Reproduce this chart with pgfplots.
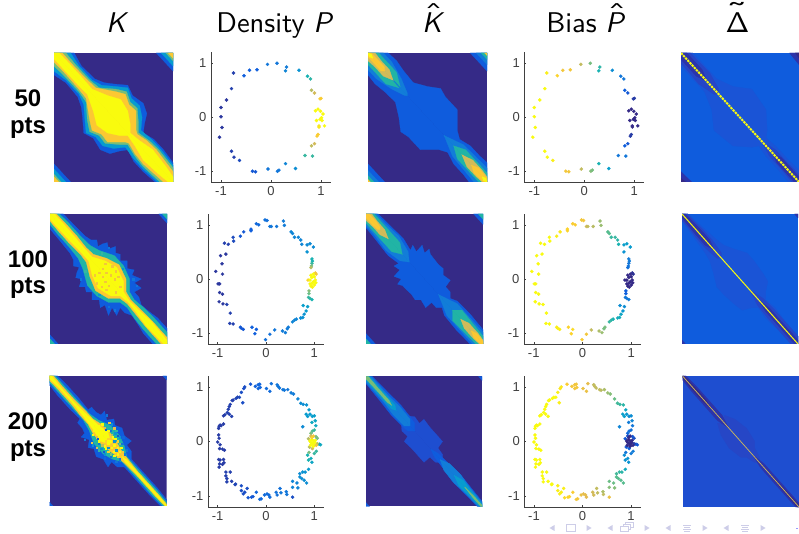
\documentclass[border=0pt]{standalone}
\usepackage{fontspec}
\usepackage{graphicx}
\usepackage{pgfplots}
\usepackage{pgfplotstable}
\pgfplotsset{compat=1.18}
\newfontfamily\ar{Liberation Sans}
\newfontfamily\lms[ItalicFont=lmsans10-oblique.otf,SlantedFont=lmsans10-oblique.otf]{lmsans10-regular.otf}
\definecolor{pk}{RGB}{53,42,135}
\definecolor{pk2}{RGB}{44,52,170}
\definecolor{pb2}{RGB}{38,70,198}
\definecolor{pb1}{RGB}{30,78,208}
\definecolor{pb0}{RGB}{26,84,214}
\definecolor{pb}{RGB}{15,92,221}
\definecolor{pc}{RGB}{18,125,216}
\definecolor{pd}{RGB}{7,156,207}
\definecolor{pt}{RGB}{33,180,165}
\definecolor{pg}{RGB}{120,190,120}
\definecolor{po}{RGB}{209,187,89}
\definecolor{pf}{RGB}{252,200,50}
\definecolor{py}{RGB}{249,251,14}
\definecolor{nav}{RGB}{205,205,232}
\pgfplotsset{
 colormap={parula}{rgb255=(53,42,135) rgb255=(15,92,221) rgb255=(18,125,216) rgb255=(7,156,207) rgb255=(21,177,180) rgb255=(89,189,140) rgb255=(165,190,107) rgb255=(225,185,82) rgb255=(252,206,46) rgb255=(249,251,14)},
 hm/.style n args={4}{scale only axis,at={(#1pt,#3pt)},anchor=south west,width=#2pt,height=#4pt,
   xmin=0,xmax=1,ymin=0,ymax=1,y dir=reverse,hide axis,clip=true,point meta min=0,point meta max=1,colormap name=parula},
 sc/.style n args={4}{scale only axis,at={(#1pt,#3pt)},anchor=south west,width=#2pt,height=#4pt,
   xmin=-1.2,xmax=1.2,ymin=-1.2,ymax=1.2,axis x line*=bottom,axis y line*=left,
   axis line style={-,draw=black!75,line width=.5pt},tick align=inside,tick style={draw=black!75,line width=.4pt},
   major tick length=2pt,xtick={-1,0,1},ytick={-1,0,1},xticklabels={-1,0,1},yticklabels={-1,0,1},
   ticklabel style={font=\ar\fontsize{13}{14}\selectfont,text=black!75},
   xticklabel style={yshift=-1pt},yticklabel style={xshift=-1pt},
   point meta min=0,point meta max=1,colormap name=parula},
 dots/.style={scatter,only marks,mark=*,mark size=1.6pt,line width=.3pt,scatter src=explicit,
   scatter/use mapped color={draw=mapped color,fill=mapped color}}
}
\newcommand\lay[2]{%
 \addplot[fill=#1,draw=#1,line width=.25pt,mark=none] table[row sep=\\,x=u,y=v]{u v\\ #2}--cycle;
 \addplot[fill=#1,draw=#1,line width=.25pt,mark=none] table[row sep=\\,x=v,y=u]{u v\\ #2}--cycle;}
\newcommand\bg[1]{\addplot[fill=#1,draw=none,mark=none] coordinates {(0,0)(1,0)(1,1)(0,1)}--cycle;}
\newcommand\mott[1]{%
 \addplot[scatter,only marks,mark=square*,mark size=.7pt,line width=.1pt,scatter src=explicit,scatter/use mapped color={draw=mapped color,fill=mapped color}] table[row sep=\\,x=u,y=v,meta=c]{u v c\\ #1};
 \addplot[scatter,only marks,mark=square*,mark size=.7pt,line width=.1pt,scatter src=explicit,scatter/use mapped color={draw=mapped color,fill=mapped color}] table[row sep=\\,x=v,y=u,meta=c]{u v c\\ #1};}
\newcommand\accd[4]{\makebox[0pt][l]{\hspace{#2}\makebox[0pt][c]{\raisebox{#3}{\scalebox{#4}[1]{\char"#1}}}}}

\pgfplotstableread{
x y c p
-.07 .98 .2 .72
.12 1.00 .2 .6
.31 .93 .22 .48
.29 .86 .25 .45
.56 .87 .3 .28
-.28 .88 .12 .85
-.43 .87 .12 .85
-.54 .77 .12 .9
-.75 .82 .05 .97
-.79 .53 .05 1
-.89 .32 .03 1
-1.0 .18 .03 1
-1.0 .01 .03 1
-.98 -.19 .03 1
-1.03 -.37 .03 1
-.79 -.63 .05 1
-.74 -.74 .05 1
-.63 -.80 .07 .97
-.37 -1.0 .1 .85
-.31 -1.01 .1 .85
-.06 -.96 .2 .72
.13 -1.0 .2 .62
.16 -.98 .2 .6
.29 -.86 .25 .45
.49 -.95 .28 .35
.68 -.71 .5 .2
.83 -.72 .5 .2
.81 -.53 .72 .12
.87 -.49 .75 .1
.92 -.35 .88 .04
.94 -.32 .88 .04
.96 -.18 .95 0
.96 -.16 .95 0
1.07 -.16 1 0
.91 -.06 1 0
.98 -.04 1 0
1.02 -.06 1 0
1.04 .06 1 0
.89 .12 1 0
.94 .15 1 0
.99 .11 1 0
1.01 -.01 1 0
.73 .76 .45 .2
.79 .71 .48 .2
.81 .50 .7 .12
.87 .45 .75 .1
.98 .34 .88 .04
1.0 .35 .88 .04
}\tabA
\pgfplotstableread{
x y c p
-.02 1.09 .18 .85
.02 1.08 .18 .85
-.20 1.02 .15 .88
-.15 1.0 .15 .88
.08 .97 .2 .75
.11 .97 .2 .72
.22 .97 .2 .7
.36 1.07 .22 .65
.38 .99 .22 .65
.52 .87 .25 .55
.55 .84 .25 .55
.59 .77 .25 .5
.67 .77 .25 .5
.72 .72 .25 .48
.74 .64 .25 .45
.85 .63 .27 .35
.91 .65 .27 .35
.98 .59 .27 .33
.85 .50 .3 .3
.95 .37 .45 .22
.96 .33 .45 .22
.95 .29 .5 .2
.94 .24 .6 .2
.93 .21 .7 .18
1.04 .09 .85 .02
1.02 .11 .85 .02
.87 -.02 .9 0
.93 .07 1 0
.98 .09 1 0
1.0 .04 1 0
.95 .03 1 0
.91 -.02 1 0
1.02 -.02 1 0
.95 -.08 1 0
1.0 -.11 1 0
.93 -.13 1 0
.98 -.05 1 0
.91 -.09 1 0
1.03 -.07 1 0
.96 -.15 .98 0
.89 -.22 .62 .12
.89 -.27 .58 .12
.88 -.34 .5 .2
.95 -.38 .45 .22
.91 -.36 .48 .2
.77 -.49 .35 .28
.86 -.51 .35 .28
.83 -.59 .33 .32
.79 -.65 .3 .38
.76 -.71 .3 .42
.72 -.72 .28 .42
.63 -.74 .25 .45
.59 -.76 .25 .48
.55 -.79 .25 .5
.46 -.89 .22 .6
.44 -.92 .22 .6
.40 -.99 .22 .65
.34 -.96 .22 .68
.18 -.94 .2 .72
.08 -1.02 .18 .85
-.01 -1.12 .18 .88
-.20 -.93 .12 .92
-.23 -1.01 .12 .9
-.29 -.89 .12 .9
-.47 -.93 .1 .97
-.51 -.91 .1 .97
-.53 -.89 .1 .97
-.68 -.83 .05 1
-.75 -.82 .05 1
-.74 -.63 .05 1
-.81 -.47 .05 1
-.89 -.46 .03 1
-.90 -.28 .03 1
-.96 -.25 .03 1
-.97 -.42 .03 1
-.96 -.09 .03 1
-.99 -.09 .03 1
-.90 .09 .03 1
-1.04 .14 .03 1
-.91 .28 .03 1
-.94 .43 .03 1
-.83 .46 .03 1
-.86 .66 .05 1
-.78 .64 .05 1
-.67 .70 .07 1
-.68 .77 .07 1
-.53 .79 .1 .97
-.46 .87 .1 .95
-.31 .92 .12 .9
-.31 .89 .12 .9
}\tabB
\pgfplotstableread{
x y c p
-.32 1.05 .1 .88
-.44 1.0 .08 .95
-.46 .97 .08 .95
-.51 .90 .08 .97
-.55 .81 .07 1
-.48 .71 .08 .97
-.59 .81 .06 1
-.62 .79 .06 1
-.68 .76 .05 1
-.70 .75 .05 1
-.74 .68 .05 1
-.76 .64 .05 1
-.78 .59 .05 1
-.80 .53 .05 1
-.85 .49 .05 1
-.88 .47 .04 1
-.76 .50 .05 1
-.71 .46 .05 1
-.88 .32 .04 1
-.93 .29 .04 1
-.97 .28 .04 1
-.98 .24 .04 1
-.95 .30 .04 1
-.98 .12 .04 1
-.97 .06 .04 1
-1.0 -.01 .04 1
-.95 -.06 .04 1
-.96 -.13 .04 1
-.90 -.14 .04 1
-.86 -.16 .04 1
-.98 -.33 .04 1
-.95 -.34 .04 1
-.88 -.33 .04 1
-.87 -.39 .04 1
-.96 -.41 .04 1
-.90 -.42 .04 1
-.97 -.47 .04 1
-.83 -.56 .05 1
-.74 -.56 .05 1
-.83 -.63 .05 1
-.81 -.68 .05 1
-.81 -.74 .05 1
-.71 -.73 .05 1
-.63 -.78 .06 1
-.64 -.79 .06 1
-.51 -.81 .08 .97
-.39 -.86 .08 .97
-.51 -.90 .08 .97
-.44 -.93 .08 .97
-.47 -.96 .08 .97
-.37 -1.03 .1 .92
-.30 -1.02 .1 .9
-.27 -1.01 .1 .9
-.20 -.93 .14 .88
-.13 -1.06 .15 .85
-.10 -1.05 .15 .85
-.03 -.98 .16 .82
.02 -.96 .16 .8
.06 -.98 .16 .8
.08 -1.02 .16 .78
.21 -.93 .18 .75
.23 -.98 .18 .75
.29 -.86 .18 .72
.31 -.94 .2 .72
.42 -.92 .2 .68
.43 -.97 .2 .72
.55 -1.02 .08 .82
.55 -.73 .25 .58
.64 -.76 .25 .58
.66 -.85 .25 .62
.55 -.84 .25 .62
.70 -.65 .28 .55
.70 -.59 .28 .52
.76 -.56 .3 .5
.81 -.56 .3 .48
.88 -.51 .33 .4
.74 -.68 .28 .55
.79 -.71 .28 .55
.84 -.76 .28 .55
.95 -.38 .38 .3
.93 -.31 .42 .3
.86 -.25 .45 .28
.88 -.34 .45 .3
1.0 -.22 .5 .22
1.04 -.18 .5 .22
.89 -.20 .6 .2
.96 -.13 .75 .12
1.10 -.05 .4 .12
1.13 -.06 .4 .1
1.06 .06 .6 .08
1.03 .09 .6 .1
.93 .15 .6 .15
.96 .19 .55 .18
1.0 .21 .5 .18
1.03 .29 .4 .2
.95 .35 .4 .22
1.02 .38 .38 .25
.96 .46 .35 .28
1.0 .47 .35 .28
.91 .50 .33 .32
.83 .50 .33 .35
.86 .46 .33 .35
.76 .27 .27 .25
.89 .58 .33 .38
.84 .67 .3 .48
.77 .68 .28 .5
.72 .70 .28 .52
.66 .78 .25 .58
.57 .87 .22 .62
.52 .89 .22 .65
.45 .95 .2 .68
.38 .94 .2 .7
.35 .95 .2 .72
.28 .98 .2 .72
.25 1.01 .2 .72
.23 1.04 .2 .72
.11 1.06 .18 .8
.01 .97 .16 .82
.08 .92 .16 .82
-.16 1.04 .14 .85
-.13 1.05 .14 .85
-.22 1.01 .13 .85
-.16 .97 .14 .85
-.12 .99 .14 .85
.90 -.10 .7 .1
1.06 -.04 .7 .05
.93 .10 .75 .08
.88 .05 .7 .1
.91 .01 1 0
.95 .03 1 0
.98 .01 1 0
1.01 -.02 1 0
.96 -.04 1 0
.93 -.02 1 0
.99 -.06 1 0
1.02 .02 1 0
.92 -.07 1 0
.98 -.09 1 0
1.04 -.07 .85 0
.95 .07 .9 0
.98 .10 .85 0
}\tabC
\begin{document}
\begin{tikzpicture}[x=1pt,y=1pt]
\path[use as bounding box,fill=white] (0,0) rectangle (799,534);

% --- row 1
\begin{axis}[hm={54}{119}{352}{129}]
\bg{pk}
\lay{pb}{0 0\\ .17 0\\ .23 .1\\ .34 .2\\ .42 .23\\ .50 .24\\ .62 .25\\ .66 .33\\ .75 .39\\ .78 .47\\ .76 .55\\ .75 .62\\ .84 .67\\ .92 .75\\ 1 .85\\ 1 1\\}
\lay{pb}{.86 0\\ 1 0\\ 1 .14\\}
\lay{pd}{0 0\\ .14 0\\ .21 .1\\ .32 .21\\ .40 .25\\ .52 .26\\ .62 .27\\ .65 .35\\ .72 .41\\ .74 .5\\ .73 .6\\ .82 .67\\ .90 .75\\ 1 .87\\ 1 1\\}
\lay{pd}{.90 0\\ 1 0\\ 1 .10\\}
\lay{pg}{0 0\\ .10 0\\ .19 .1\\ .30 .21\\ .38 .27\\ .52 .28\\ .61 .30\\ .64 .38\\ .70 .43\\ .71 .55\\ .71 .62\\ .80 .68\\ .88 .75\\ 1 .89\\ 1 1\\}
\lay{pg}{.94 0\\ 1 0\\ 1 .06\\}
\lay{pf}{0 0\\ .07 0\\ .165 .1\\ .27 .2\\ .35 .27\\ .52 .30\\ .60 .32\\ .63 .4\\ .69 .45\\ .69 .6\\ .70 .63\\ .78 .68\\ .86 .75\\ 1 .92\\ 1 1\\}
\lay{pf}{.96 0\\ 1 0\\ 1 .04\\}
\lay{py}{0 0\\ .045 0\\ .146 .1\\ .245 .2\\ .32 .28\\ .45 .33\\ .56 .36\\ .62 .45\\ .64 .55\\ .64 .62\\ .72 .68\\ .83 .75\\ .94 .88\\ 1 .96\\ 1 1\\}
\end{axis}
\begin{axis}[sc={211}{120}{352}{129.5}]
\addplot[dots] table[x=x,y=y,meta=c]{\tabA};
\end{axis}
\begin{axis}[hm={368}{119}{352}{129}]
\bg{pk}
\lay{pb}{0 0\\ .17 0\\ .24 .06\\ .30 .14\\ .38 .23\\ .50 .26\\ .61 .275\\ .65 .34\\ .75 .44\\ .75 .6\\ .77 .67\\ .86 .72\\ .94 .80\\ 1 .85\\ 1 1\\}
\lay{pb}{.86 0\\ 1 0\\ 1 .14\\}
\lay{pc}{0 0\\ .13 0\\ .20 .07\\ .28 .2\\ .33 .31\\ .33 .33\\}
\lay{pc}{.64 .64\\ .8 .71\\ .9 .80\\ 1 .89\\ 1 1\\}
\lay{pc}{.91 0\\ 1 0\\ 1 .09\\}
\lay{pt}{0 0\\ .09 0\\ .15 .06\\ .24 .15\\ .27 .26\\}
\lay{pt}{.72 .72\\ .82 .75\\ .92 .85\\ 1 .93\\ 1 1\\}
\lay{pt}{.95 0\\ 1 0\\ 1 .05\\}
\lay{po}{0 0\\ .06 0\\ .11 .06\\ .18 .13\\ .21 .21\\}
\lay{po}{.79 .79\\ .88 .83\\ .96 .91\\ 1 .96\\ 1 1\\}
\lay{pf}{0 0\\ .03 0\\ .08 .05\\ .14 .11\\ .14 .14\\}
\lay{pf}{.87 .87\\ .93 .89\\ 1 .97\\ 1 1\\}
\lay{pf}{.98 0\\ 1 0\\ 1 .02\\}
\lay{py}{0 0\\ .03 .01\\ .04 .04\\}
\lay{py}{.96 .96\\ .99 .97\\ 1 1\\}
\end{axis}
\begin{axis}[sc={524.3}{120}{352}{129.5}]
\addplot[dots] table[x=x,y=y,meta=p]{\tabA};
\end{axis}
\begin{axis}[hm={681}{118}{352}{129}]
\bg{pb}
\lay{pk2}{.92 0\\ 1 0\\ 1 .09\\}
\lay{pk}{.97 0\\ 1 0\\ 1 .04\\}
\lay{pb0}{0 0\\ .10 0\\ .18 .08\\ .3 .2\\ .44 .26\\ .6 .28\\ .66 .36\\ .72 .44\\ .73 .6\\ .72 .66\\ .8 .72\\ .9 .82\\ 1 .91\\ 1 1\\}
\lay{pb2}{0 0\\ .08 0\\ .14 .06\\ .24 .15\\ .32 .28\\ .32 .32\\}
\lay{pb2}{.68 .68\\ .8 .75\\ .9 .85\\ 1 .94\\ 1 1\\}
\lay{pk2}{0 0\\ .05 0\\ .11 .06\\ .18 .13\\ .22 .22\\}
\lay{pk2}{.78 .78\\ .85 .81\\ .92 .88\\ 1 .96\\ 1 1\\}
\addplot[py,line width=2pt,dash pattern=on 2.3pt off .9pt] coordinates {(0,0)(1,1)};
\end{axis}

% --- row 2
\begin{axis}[hm={50}{117}{190}{130}]
\bg{pk}
\lay{pb}{0 0\\ .115 0\\ .2 .08\\ .30 .17\\ .35 .2\\ .40 .20\\ .41 .25\\ .45 .23\\ .49 .22\\ .50 .27\\ .56 .25\\ .56 .30\\ .60 .31\\ .60 .36\\ .66 .36\\ .66 .42\\ .72 .43\\ .70 .47\\ .78 .50\\ .72 .53\\ .78 .57\\ .72 .60\\ .76 .64\\ .78 .70\\ .86 .76\\ .92 .8\\ 1 .88\\ 1 1\\}
\lay{pb}{.93 0\\ 1 0\\ 1 .07\\}
\lay{pt}{0 0\\ .08 0\\ .15 .06\\ .25 .16\\ .34 .24\\ .42 .28\\ .55 .32\\ .63 .40\\ .68 .5\\ .68 .6\\ .72 .66\\ .80 .72\\ .89 .8\\ 1 .91\\ 1 1\\}
\lay{pt}{.96 0\\ 1 0\\ 1 .04\\}
\lay{pf}{0 0\\ .055 0\\ .13 .07\\ .23 .17\\ .31 .26\\ .37 .31\\ .48 .34\\ .59 .39\\ .65 .50\\ .65 .6\\ .69 .66\\ .78 .74\\ .87 .82\\ 1 .95\\ 1 1\\}
\lay{py}{0 0\\ .04 0\\ .12 .08\\ .22 .185\\ .30 .27\\ .36 .33\\ .47 .36\\ .57 .41\\ .63 .52\\ .63 .6\\ .68 .67\\ .76 .74\\ .86 .82\\ 1 .97\\ 1 1\\}
\mott{.45 .42 .85\\ .48 .45 .85\\ .53 .40 .85\\ .58 .48 .85\\ .47 .38 .85\\ .55 .5 .85\\ .52 .47 .85\\ .62 .42 .3\\ .71 .5 .2\\ .74 .55 .2\\ .5 .26 .2\\ .44 .3 .5\\ .6 .56 .85\\ .56 .44 .85\\}
\end{axis}
\begin{axis}[sc={208}{116}{190}{130}]
\addplot[dots] table[x=x,y=y,meta=c]{\tabB};
\end{axis}
\begin{axis}[hm={366}{117}{190}{130}]
\bg{pk}
\lay{pb}{0 0\\ .105 0\\ .2 .085\\ .32 .19\\ .38 .28\\ .40 .24\\ .43 .29\\ .48 .24\\ .50 .30\\ .54 .27\\ .55 .31\\ .62 .39\\ .66 .42\\ .66 .47\\ .72 .51\\ .68 .56\\ .72 .60\\ .72 .65\\ .78 .67\\ .89 .77\\ 1 .89\\ 1 1\\}
\lay{pb}{.92 0\\ 1 0\\ 1 .08\\}
\lay{pc}{0 0\\ .09 0\\ .16 .07\\ .28 .17\\ .36 .29\\ .37 .37\\}
\lay{pc}{.62 .62\\ .78 .69\\ .88 .79\\ 1 .91\\ 1 1\\}
\lay{pt}{0 0\\ .07 0\\ .13 .06\\ .22 .15\\ .29 .22\\ .31 .31\\}
\lay{pt}{.74 .74\\ .82 .74\\ .92 .85\\ 1 .94\\ 1 1\\}
\lay{pt}{.96 0\\ 1 0\\ 1 .04\\}
\lay{po}{0 0\\ .05 0\\ .1 .06\\ .16 .12\\ .19 .19\\}
\lay{po}{.81 .81\\ .88 .84\\ .96 .92\\ 1 .97\\ 1 1\\}
\lay{pf}{0 0\\ .03 0\\ .09 .06\\ .12 .1\\ .12 .12\\}
\lay{pf}{.9 .9\\ .95 .92\\ 1 .98\\ 1 1\\}
\end{axis}
\begin{axis}[sc={524}{117}{190}{130}]
\addplot[dots] table[x=x,y=y,meta=p]{\tabB};
\end{axis}
\begin{axis}[hm={682}{116}{190}{130}]
\bg{pb}
\lay{pk2}{.97 0\\ 1 0\\ 1 .03\\}
\lay{pb0}{0 0\\ .05 0\\ .1 .04\\ .2 .12\\ .3 .2\\ .36 .24\\ .45 .27\\ .56 .3\\ .62 .36\\ .7 .46\\ .74 .52\\ .72 .6\\ .72 .66\\ .8 .72\\ .9 .84\\ 1 .94\\ 1 1\\}
\lay{pb2}{0 0\\ .05 0\\ .1 .05\\ .18 .12\\ .26 .2\\ .34 .3\\ .34 .34\\}
\lay{pb2}{.58 .58\\ .7 .65\\ .8 .74\\ .9 .84\\ 1 .94\\ 1 1\\}
\lay{pk2}{0 0\\ .03 0\\ .1 .065\\ .16 .12\\ .24 .2\\ .28 .28\\}
\lay{pk2}{.66 .66\\ .75 .72\\ .85 .82\\ 1 .97\\ 1 1\\}
\addplot[py,line width=1pt] coordinates {(0,0)(1,1)};
\end{axis}

% --- row 3
\begin{axis}[hm={49.5}{117}{28}{130}]
\bg{pk}
\lay{pb}{0 0\\ .07 0\\ .15 .07\\ .25 .17\\ .33 .26\\ .36 .24\\ .40 .28\\ .44 .30\\ .47 .27\\ .49 .34\\ .55 .33\\ .56 .38\\ .62 .40\\ .64 .46\\ .70 .5\\ .66 .53\\ .70 .58\\ .70 .64\\ .76 .70\\ .84 .78\\ .92 .86\\ 1 .95\\ 1 1\\}
\lay{pb}{.97 0\\ 1 0\\ 1 .03\\}
\lay{pt}{0 0\\ .05 0\\ .13 .08\\ .26 .21\\ .34 .29\\ .42 .34\\ .52 .38\\ .6 .46\\ .64 .54\\ .66 .62\\ .72 .68\\ .82 .78\\ .92 .88\\ 1 .97\\ 1 1\\}
\lay{pf}{0 0\\ .035 0\\ .11 .08\\ .21 .18\\ .31 .27\\ .37 .33\\ .44 .37\\ .52 .44\\ .58 .52\\ .62 .58\\ .67 .64\\ .75 .73\\ .85 .83\\ .93 .91\\ 1 .985\\ 1 1\\}
\lay{py}{0 0\\ .02 0\\ .1 .09\\ .2 .19\\ .30 .28\\ .36 .33\\ .42 .38\\ .5 .43\\ .52 .5\\ .52 .52\\}
\lay{py}{.62 .62\\ .66 .645\\ .75 .74\\ .85 .84\\ .93 .92\\ 1 .995\\ 1 1\\}
\mott{.44 .44 1\\ .46 .43 1\\ .48 .46 1\\ .5 .48 .9\\ .52 .5 1\\ .55 .53 1\\ .58 .55 1\\ .6 .58 1\\ .47 .40 .8\\ .5 .42 1\\ .53 .45 .7\\ .56 .48 1\\ .42 .38 1\\ .45 .37 1\\ .53 .37 .3\\ .57 .42 .5\\ .6 .47 .3\\ .62 .52 .2\\ .49 .3 .2\\ .55 .4 .8\\ .58 .5 .9\\ .52 .42 .2\\ .48 .41 .1\\ .55 .5 .3\\ .6 .52 .6\\ .62 .58 .85\\ .64 .6 .2\\ .58 .46 .1\\ .66 .57 .2\\ .61 .55 1\\ .57 .57 .3\\ .54 .47 1\\ .51 .36 .85\\ .56 .44 .3\\ .63 .47 .15\\}
\end{axis}
\begin{axis}[sc={208}{116}{27}{131}]
\addplot[dots] table[x=x,y=y,meta=c]{\tabC};
\end{axis}
\begin{axis}[hm={366}{116}{27.5}{130}]
\bg{pk}
\lay{pb1}{.34 .3\\ .42 .31\\ .46 .36\\ .50 .33\\ .55 .39\\ .6 .44\\ .66 .5\\ .62 .55\\ .66 .6\\ .66 .66\\ .34 .34\\}
\lay{pb}{0 0\\ .055 0\\ .12 .06\\ .22 .15\\ .30 .22\\ .38 .31\\ .42 .36\\ .42 .42\\}
\lay{pb}{.56 .56\\ .62 .59\\ .7 .66\\ .8 .74\\ .9 .85\\ 1 .96\\ 1 1\\}
\lay{pb}{.97 0\\ 1 0\\ 1 .03\\}
\lay{pc}{0 0\\ .045 0\\ .11 .065\\ .2 .155\\ .29 .23\\ .38 .33\\ .38 .38\\}
\lay{pc}{.64 .64\\ .72 .67\\ .82 .76\\ .9 .86\\ 1 .97\\ 1 1\\}
\lay{pd}{0 0\\ .03 0\\ .1 .07\\ .2 .17\\ .25 .22\\ .26 .26\\}
\lay{pd}{.76 .76\\ .84 .8\\ .9 .87\\ 1 .98\\ 1 1\\}
\lay{pg}{0 0\\ .02 0\\ .1 .085\\ .2 .185\\ .22 .22\\}
\lay{pg}{.85 .85\\ .93 .92\\ 1 .99\\ 1 1\\}
\end{axis}
\begin{axis}[sc={524.3}{116.5}{27}{131}]
\addplot[dots] table[x=x,y=y,meta=p]{\tabC};
\end{axis}
\begin{axis}[hm={682.5}{116.5}{27}{131}]
\bg{pb1}
\lay{pb2}{.36 .3\\ .45 .33\\ .55 .4\\ .62 .5\\ .62 .55\\ .66 .62\\ .66 .66\\ .36 .36\\}
\lay{pk2}{0 0\\ .03 0\\ .12 .08\\ .22 .18\\ .34 .3\\ .4 .4\\}
\lay{pk2}{.6 .6\\ .7 .67\\ .8 .77\\ .9 .87\\ 1 .97\\ 1 1\\}
\lay{pk}{0 0\\ .012 0\\ .1 .08\\ .2 .18\\ .25 .25\\}
\lay{pk}{.75 .75\\ .85 .84\\ 1 .985\\ 1 1\\}
\addplot[po,line width=.7pt] coordinates {(0,0)(1,1)};
\end{axis}

% --- titles
\node[anchor=base,font=\lms\fontsize{28.5}{30}\selectfont] at (116,501) {\itshape K};
\node[anchor=base,font=\lms\fontsize{28.5}{30}\selectfont] at (274,501) {Density\hspace{.3em}{\itshape P}};
\node[anchor=base,font=\lms\fontsize{28.5}{30}\selectfont] at (432,501) {\accd{02C6}{.4em}{.32em}{1.4}{\itshape K}};
\node[anchor=base,font=\lms\fontsize{28.5}{30}\selectfont] at (585,501) {Bias\hspace{.3em}{\accd{02C6}{.4em}{.32em}{1.4}\itshape P}};
\node[anchor=base,font=\lms\fontsize{28.5}{30}\selectfont] at (737.5,501) {\accd{02DC}{.39em}{.42em}{1.5}Δ};
% --- row labels
\foreach \t/\a/\b in {50/427/400,100/266/240,200/104/77}{
 \node[anchor=base,font=\ar\bfseries\fontsize{24}{26}\selectfont] at (28,\a) {\t};
 \node[anchor=base,font=\ar\bfseries\fontsize{24}{26}\selectfont] at (28,\b) {pts};
}
% --- navigation symbols
\begin{scope}[nav]
\foreach \x in {552,610,668,726}{\fill (\x-2.5,6)--(\x+2.5,9)--(\x+2.5,3)--cycle;}
\foreach \x in {589,647,705,763}{\fill (\x+2.5,6)--(\x-2.5,9)--(\x-2.5,3)--cycle;}
\draw[line width=.9pt] (566.5,3)rectangle(575,9.5);
\draw[line width=.9pt] (620.5,2.5)rectangle(628,8) (623,8)--(623,10)--(630,10)--(630,5)--(628,5) (625.5,10)--(625.5,12)--(633,12)--(633,7)--(630,7);
\foreach \x in {687,745}{\draw[line width=.8pt] (\x-4,9)--(\x+4,9) (\x-3,7)--(\x+3,7) (\x-4,5)--(\x+4,5) (\x-3,3)--(\x+3,3);}
\fill[blue!40] (796,4.5) rectangle (797.5,6);
\end{scope}
\end{tikzpicture}
\end{document}
